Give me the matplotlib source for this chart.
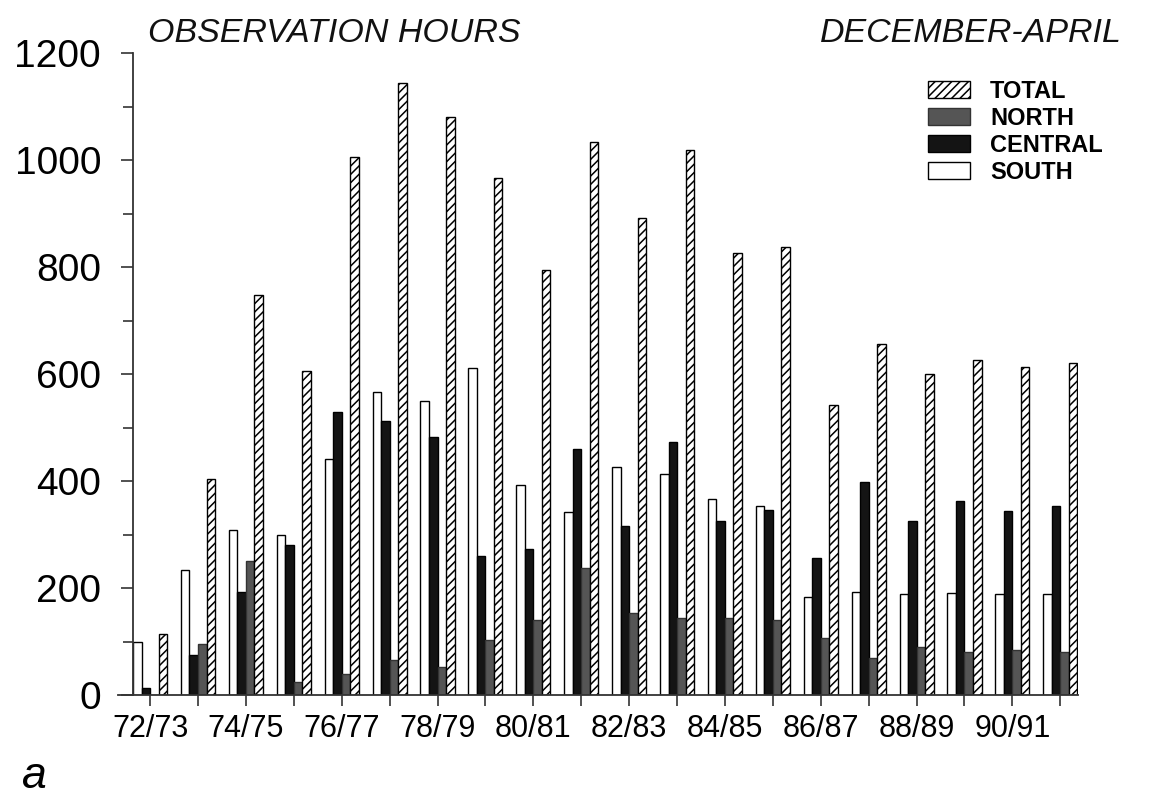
import matplotlib
matplotlib.use("Agg")
import numpy as np
import matplotlib.pyplot as plt
from matplotlib.ticker import MultipleLocator
from matplotlib.patches import Patch

# seasons (December-April), observation hours per region
seasons = ['72/73', '73/74', '74/75', '75/76', '76/77', '77/78', '78/79', '79/80',
           '80/81', '81/82', '82/83', '83/84', '84/85', '85/86', '86/87', '87/88',
           '88/89', '89/90', '90/91', '91/92']
south = [100, 233, 309, 299, 441, 567, 549, 611, 392, 342, 427, 414, 366, 354,
         183, 192, 188, 191, 189, 189]
central = [14, 74, 192, 281, 529, 512, 482, 259, 272, 460, 316, 472, 325, 346,
           256, 399, 326, 362, 344, 354]
north = [0, 95, 250, 24, 39, 66, 53, 103, 141, 237, 154, 144, 144, 141,
         106, 69, 89, 80, 84, 81]
total = [114, 403, 748, 605, 1006, 1144, 1080, 966, 794, 1033, 891, 1018, 826, 837,
         542, 656, 600, 627, 614, 620]

plt.rcParams['font.family'] = ['Liberation Sans', 'DejaVu Sans']
plt.rcParams['hatch.linewidth'] = 1.1

fig = plt.figure(figsize=(11.5, 8), dpi=100)
ax = fig.add_axes([118 / 1150, 1 - 695 / 800, 960 / 1150, 642 / 800])

x = np.arange(len(seasons))
w = 0.178
ax.bar(x - 1.5 * w, south, w, color='white', edgecolor='black', linewidth=1.0)
ax.bar(x - 0.5 * w, central, w, color='#141414', edgecolor='black', linewidth=1.0)
ax.bar(x + 0.5 * w, north, w, color='#555555', edgecolor='#333333', linewidth=1.0)
ax.bar(x + 1.5 * w, total, w, color='white', edgecolor='black', linewidth=1.0, hatch='////')

ax.set_xlim(-0.67, 19.37)
ax.set_ylim(0, 1200)
ax.spines['top'].set_visible(False)
ax.spines['right'].set_visible(False)
ax.spines['left'].set_position(('data', -2 * w))
ax.spines['left'].set_bounds(0, 1200)
for s in ['left', 'bottom']:
    ax.spines[s].set_linewidth(1.3)
    ax.spines[s].set_color('#333333')

ax.yaxis.set_major_locator(MultipleLocator(200))
ax.yaxis.set_minor_locator(MultipleLocator(100))
ax.tick_params(axis='y', which='major', length=9, width=1.2, pad=14, labelsize=28, color='#333333')
ax.tick_params(axis='y', which='minor', length=7, width=1.2, color='#333333')
ax.set_xticks(x)
ax.set_xticklabels([s if i % 2 == 0 else '' for i, s in enumerate(seasons)])
ax.tick_params(axis='x', length=8, width=1.2, pad=6, labelsize=22, color='#333333')

fig.text(148 / 1150, 1 - 42 / 800, 'OBSERVATION HOURS', fontsize=24.5, style='italic',
         ha='left', va='baseline', color='#111111')
fig.text(1122 / 1150, 1 - 42 / 800, 'DECEMBER-APRIL', fontsize=24.5, style='italic',
         ha='right', va='baseline', color='#111111')
fig.text(22 / 1150, 1 - 788 / 800, 'a', fontsize=32, style='italic', ha='left', va='baseline')

handles = [Patch(facecolor='white', edgecolor='black', hatch='////'),
           Patch(facecolor='#555555', edgecolor='#333333'),
           Patch(facecolor='#141414', edgecolor='black'),
           Patch(facecolor='white', edgecolor='black')]
ax.legend(handles, ['TOTAL', 'NORTH', 'CENTRAL', 'SOUTH'], loc='upper left',
          bbox_to_anchor=(928 / 1150, 1 - 80 / 800), bbox_transform=fig.transFigure,
          frameon=False, prop={'size': 17, 'weight': 'bold'}, handlelength=1.78,
          handleheight=0.72, labelspacing=0.17, borderpad=0, borderaxespad=0,
          handletextpad=0.85)

fig.savefig('out.png', dpi=100)
